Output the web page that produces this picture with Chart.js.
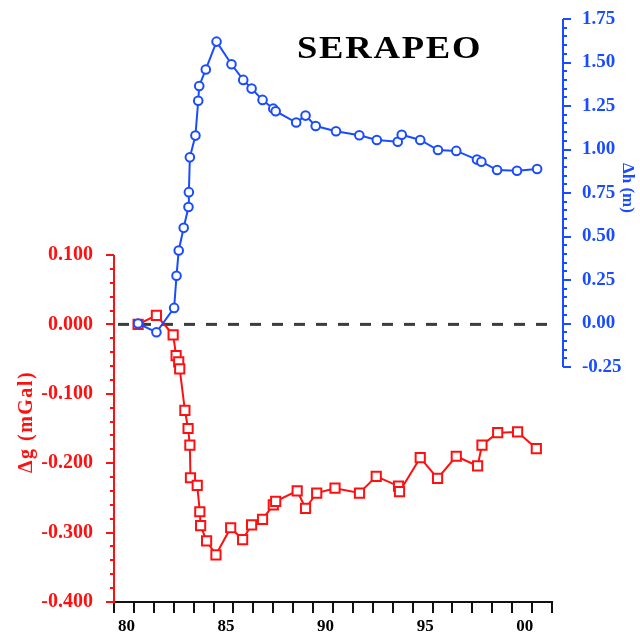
<!DOCTYPE html>
<html>
<head>
<meta charset="utf-8">
<title>SERAPEO</title>
<script src="https://cdn.jsdelivr.net/npm/chart.js@4/dist/chart.umd.min.js"></script>
<style>
  html, body { margin: 0; padding: 0; background: #ffffff; }
  #wrap { width: 640px; height: 637px; }
</style>
</head>
<body>
<div id="wrap"><canvas id="chart" width="640" height="637"></canvas></div>
<script>
// Ground level change (Δh, m) at Serapeo, by survey epoch (year, 19xx)
const heightYears = [81.21, 82.13, 83.02, 83.14, 83.25, 83.50, 83.74, 83.76, 83.81, 84.09,
  84.23, 84.28, 84.61, 85.15, 85.90, 86.49, 86.91, 87.46, 88.00, 88.12,
  89.15, 89.62, 90.13, 91.15, 92.32, 93.20, 94.25, 94.45, 95.38, 96.27,
  97.19, 98.23, 98.45, 99.24, 100.24, 101.25];
const heightValues = [0.00, -0.05, 0.09, 0.275, 0.42, 0.55, 0.67, 0.755, 0.955, 1.08,
  1.28, 1.365, 1.46, 1.62, 1.49, 1.40, 1.35, 1.285, 1.235, 1.22,
  1.155, 1.195, 1.135, 1.105, 1.082, 1.055, 1.045, 1.085, 1.055, 0.997,
  0.992, 0.942, 0.93, 0.882, 0.878, 0.888];

// Gravity change (Δg, mGal) at the same station
const gravityYears = [81.21, 82.13, 82.97, 83.12, 83.25, 83.30, 83.56, 83.72, 83.81, 83.84,
  84.18, 84.31, 84.35, 84.65, 85.12, 85.86, 86.46, 86.91, 87.46, 88.00,
  88.12, 89.20, 89.62, 90.18, 91.10, 92.33, 93.17, 94.29, 94.34, 95.38,
  96.25, 97.19, 98.26, 98.48, 99.27, 100.27, 101.21];
const gravityValues = [0.000, 0.013, -0.015, -0.045, -0.054, -0.064, -0.124, -0.150, -0.174, -0.221,
  -0.232, -0.270, -0.290, -0.312, -0.332, -0.293, -0.310, -0.289, -0.281, -0.260,
  -0.255, -0.240, -0.265, -0.243, -0.236, -0.243, -0.219, -0.233, -0.241, -0.192,
  -0.222, -0.190, -0.204, -0.174, -0.156, -0.155, -0.179];

// Axis ticks
const yearTickLabels = [80, 85, 90, 95, 100];
const gravityTicks = [-0.4, -0.3, -0.2, -0.1, 0.0, 0.1];
const heightTicks = [-0.25, 0.0, 0.25, 0.5, 0.75, 1.0, 1.25, 1.5, 1.75];
const yearRange = [80, 102];
const zeroLineYears = [80, 101.8];

const RED = '#ff1010';
const BLUE = '#1a4cff';
const SERIF = '"Liberation Serif", "Times New Roman", serif';

const heightData = heightYears.map((x, i) => ({ x, y: heightValues[i] }));
const gravityData = gravityYears.map((x, i) => ({ x, y: gravityValues[i] }));
const zeroData = zeroLineYears.map(x => ({ x, y: 0 }));

const fmt3 = v => (Math.abs(v) < 1e-9 ? '0.000' : Number(v).toFixed(3));
const fmt2 = v => (Math.abs(v) < 1e-9 ? '0.00' : Number(v).toFixed(2));

// fixed axis boxes, without the extra room Chart.js keeps for overhanging labels
const fixBox = size => s => {
  if (s.isHorizontal()) { s.height = size; s.paddingLeft = 0; s.paddingRight = 0; }
  else { s.width = size; s.paddingTop = 0; s.paddingBottom = 0; }
};

// Axis lines with major and minor tick marks, drawn only over each axis' labelled span
const axisFrame = {
  id: 'axisFrame',
  beforeDatasetsDraw(chart) {
    const { ctx, chartArea, scales } = chart;
    const x = scales.x, g = scales.yG, h = scales.yH;
    ctx.save();
    ctx.lineCap = 'butt';

    // time axis
    ctx.strokeStyle = '#111';
    ctx.lineWidth = 2;
    const xb = chartArea.bottom;
    ctx.beginPath();
    ctx.moveTo(x.getPixelForValue(yearRange[0]) - 1, xb);
    ctx.lineTo(x.getPixelForValue(yearRange[1]) + 1, xb);
    ctx.stroke();
    ctx.beginPath();
    for (let yr = yearRange[0]; yr <= yearRange[1]; yr++) {
      const px = Math.round(x.getPixelForValue(yr));
      ctx.moveTo(px, xb);
      ctx.lineTo(px, xb + 11);
    }
    ctx.stroke();

    // gravity axis (left)
    const gx = chartArea.left;
    ctx.strokeStyle = RED;
    ctx.beginPath();
    ctx.moveTo(gx, g.getPixelForValue(gravityTicks[0]) + 1);
    ctx.lineTo(gx, g.getPixelForValue(gravityTicks[gravityTicks.length - 1]));
    ctx.stroke();
    ctx.beginPath();
    for (let i = -20; i <= 5; i++) {
      const py = Math.round(g.getPixelForValue(i * 0.02));
      const len = i % 5 === 0 ? 8 : 4;
      ctx.moveTo(gx, py);
      ctx.lineTo(gx - len, py);
    }
    ctx.stroke();

    // height axis (right)
    const hx = chartArea.right;
    ctx.strokeStyle = BLUE;
    ctx.beginPath();
    ctx.moveTo(hx, h.getPixelForValue(heightTicks[0]));
    ctx.lineTo(hx, h.getPixelForValue(heightTicks[heightTicks.length - 1]));
    ctx.stroke();
    ctx.beginPath();
    for (let i = -5; i <= 35; i++) {
      const py = Math.round(h.getPixelForValue(i * 0.05));
      const len = i % 5 === 0 ? 8 : 4;
      ctx.moveTo(hx, py);
      ctx.lineTo(hx + len, py);
    }
    ctx.stroke();
    ctx.restore();
  },
  afterDraw(chart) {
    const { ctx } = chart;
    ctx.save();
    // station name, set in wide bold capitals
    ctx.fillStyle = '#000';
    ctx.font = 'bold 31px ' + SERIF;
    ctx.letterSpacing = '1.5px';
    ctx.textAlign = 'left';
    ctx.textBaseline = 'alphabetic';
    ctx.translate(297, 58);
    ctx.scale(1.18, 1);
    ctx.fillText('SERAPEO', 0, 0);
    ctx.setTransform(1, 0, 0, 1, 0, 0);

    // left axis title
    ctx.fillStyle = RED;
    ctx.font = 'bold 20px ' + SERIF;
    ctx.letterSpacing = '1.5px';
    ctx.textAlign = 'center';
    ctx.textBaseline = 'middle';
    ctx.translate(27, 422);
    ctx.rotate(-Math.PI / 2);
    ctx.fillText('Δg (mGal)', 0, 0);
    ctx.setTransform(1, 0, 0, 1, 0, 0);

    // right axis title
    ctx.fillStyle = BLUE;
    ctx.font = 'bold 17px ' + SERIF;
    ctx.letterSpacing = '0px';
    ctx.translate(627, 188);
    ctx.rotate(Math.PI / 2);
    ctx.fillText('Δh (m)', 0, 0);
    ctx.restore();
  }
};

new Chart(document.getElementById('chart'), {
  type: 'line',
  data: {
    datasets: [
      {
        label: 'Δh (m)',
        data: heightData,
        yAxisID: 'yH',
        borderColor: BLUE,
        borderWidth: 2,
        backgroundColor: '#ffffff',
        pointStyle: 'circle',
        pointRadius: 4.3,
        pointBorderWidth: 2,
        pointBorderColor: BLUE,
        pointBackgroundColor: '#ffffff',
        tension: 0
      },
      {
        label: 'Δg (mGal)',
        data: gravityData,
        yAxisID: 'yG',
        borderColor: RED,
        borderWidth: 2,
        backgroundColor: '#ffffff',
        pointStyle: 'rect',
        pointRadius: 6.5,
        pointBorderWidth: 2,
        pointBorderColor: RED,
        pointBackgroundColor: '#ffffff',
        tension: 0
      },
      {
        label: 'zero',
        data: zeroData,
        yAxisID: 'yG',
        borderColor: '#3c3c3c',
        borderWidth: 3,
        borderDash: [11, 11],
        borderDashOffset: 18,
        pointRadius: 0,
        tension: 0
      }
    ]
  },
  options: {
    responsive: false,
    animation: false,
    layout: { padding: { top: 19, left: 0, right: 0, bottom: 0 } },
    plugins: { legend: { display: false }, tooltip: { enabled: false }, title: { display: false } },
    scales: {
      x: {
        type: 'linear',
        min: 80,
        max: 102.55,
        grid: { display: false, drawTicks: false },
        border: { display: false },
        afterBuildTicks: s => { s.ticks = yearTickLabels.map(v => ({ value: v })); },
        afterFit: fixBox(35),
        ticks: {
          callback: v => String(v % 100).padStart(2, '0'),
          labelOffset: 12.5,
          padding: 14,
          maxRotation: 0,
          autoSkip: false,
          color: '#000',
          font: { family: SERIF, weight: 'bold', size: 17 }
        }
      },
      yG: {
        type: 'linear',
        position: 'left',
        min: -0.4,
        max: 0.44,
        grid: { display: false, drawTicks: false },
        border: { display: false },
        afterBuildTicks: s => { s.ticks = gravityTicks.map(v => ({ value: v })); },
        afterFit: fixBox(114),
        ticks: {
          callback: fmt3,
          padding: 21,
          autoSkip: false,
          color: RED,
          font: { family: SERIF, weight: 'bold', size: 20 }
        }
      },
      yH: {
        type: 'linear',
        position: 'right',
        min: -1.6,
        max: 1.75,
        grid: { display: false, drawTicks: false },
        border: { display: false },
        afterBuildTicks: s => { s.ticks = heightTicks.map(v => ({ value: v })); },
        afterFit: fixBox(77),
        ticks: {
          callback: fmt2,
          padding: 19,
          autoSkip: false,
          color: BLUE,
          font: { family: SERIF, weight: 'bold', size: 19 }
        }
      }
    }
  },
  plugins: [axisFrame]
});
</script>
</body>
</html>
